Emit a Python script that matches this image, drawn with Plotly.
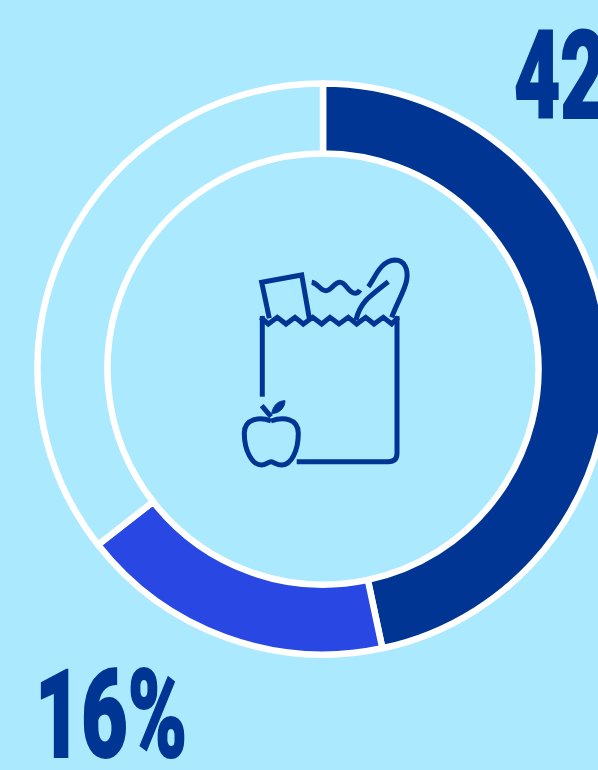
import re
import plotly.graph_objects as go

# Share of spending by slice
slice_names = ["Dark", "Blue", "Rest"]
slice_values = [42, 16, 32]
slice_colors = ["#003594", "#2847E3", "#ABE9FF"]
label_texts = ["42%", "16%"]

BG = "#ABE9FF"
INK = "#003594"
W, H = 700, 770
CX, CY, R = 323, 369, 285.5

# Grocery bag icon, written on a grid of 3 units per pixel with origin at (220, 240)
bag_paths = [
    "M127 470 L127 228",
    "M230 665 L505 665 Q531 665 531 640 L531 228",
    "M122 232 L145 252 L172 232 L198 252 L225 232 L250 252 L278 232 L305 252 L330 232 L357 252 "
    "L385 232 L410 252 L437 232 L462 252 L490 232 L515 252 L535 232",
    "M148 235 L125 127 L245 105 L268 235",
    "M275 127 C295 130 300 152 318 152 C335 152 342 127 360 127 C378 127 385 160 405 160 C412 160 417 155 420 150",
    "M445 140 C465 115 480 62 525 60 C555 60 565 90 560 120 C555 150 530 190 515 232",
    "M408 240 C420 190 440 175 505 125",
    "M153 543 C120 530 73 535 73 580 C73 630 95 675 125 675 C140 675 145 665 153 665 "
    "C160 665 170 675 185 675 C215 675 235 630 235 580 C235 535 190 530 153 543",
    "M125 497 L153 530",
]
leaf_path = "M155 520 C160 495 175 482 195 482 C195 505 175 522 155 520 Z"


def icon_path(d):
    """Convert an icon path from grid units to figure pixels."""
    def conv(m):
        return f"{float(m[1]) / 3 + 220:.1f} {float(m[2]) / 3 + 240:.1f}"
    return re.sub(r"(\d+) (\d+)", conv, d)


fig = go.Figure()
fig.add_trace(go.Pie(
    labels=slice_names,
    values=slice_values,
    hole=0.755,
    sort=False,
    direction="clockwise",
    rotation=0,
    textinfo="none",
    hoverinfo="skip",
    showlegend=False,
    marker=dict(colors=slice_colors, line=dict(color="#FFFFFF", width=6.5)),
    domain=dict(
        x=[(CX - R) / W, (CX + R) / W],
        y=[(H - CY - R) / H, (H - CY + R) / H],
    ),
))
# Empty trace so the pixel axes used by the icon and labels exist
fig.add_trace(go.Scatter(x=[], y=[], showlegend=False, hoverinfo="skip"))

shapes = [
    dict(type="path", path=icon_path(d), xref="x", yref="y",
         line=dict(color=INK, width=5), fillcolor="rgba(0,0,0,0)")
    for d in bag_paths
]
shapes.append(dict(type="path", path=icon_path(leaf_path), xref="x", yref="y",
                   line=dict(color=INK, width=1), fillcolor=INK))

label_font = dict(family="Roboto", size=122, color=INK, weight=900)
annotations = [
    dict(text=label_texts[0], x=590, y=76, xref="x", yref="y", xanchor="center", yanchor="middle",
         showarrow=False, font=label_font),
    dict(text=label_texts[1], x=111, y=715, xref="x", yref="y", xanchor="center", yanchor="middle",
         showarrow=False, font=label_font),
]

fig.update_layout(
    width=W, height=H,
    margin=dict(l=0, r=0, t=0, b=0),
    paper_bgcolor=BG, plot_bgcolor=BG,
    xaxis=dict(range=[0, W], visible=False, fixedrange=True),
    yaxis=dict(range=[H, 0], visible=False, fixedrange=True),
    shapes=shapes,
    annotations=annotations,
)

# Condense the heavy labels and stop the oversized canvas from scrolling
post = """
document.documentElement.style.overflow = 'hidden';
document.body.style.overflow = 'hidden';
document.querySelectorAll('.annotation-text').forEach(function (t) {
    t.setAttribute('textLength', '152');
    t.setAttribute('lengthAdjust', 'spacingAndGlyphs');
    t.style.stroke = '#003594';
    t.style.strokeWidth = '2px';
});
"""
fig.write_html("out.html", config=dict(displayModeBar=False, staticPlot=True), post_script=post,
               default_width=f"{W}px", default_height=f"{H}px")
